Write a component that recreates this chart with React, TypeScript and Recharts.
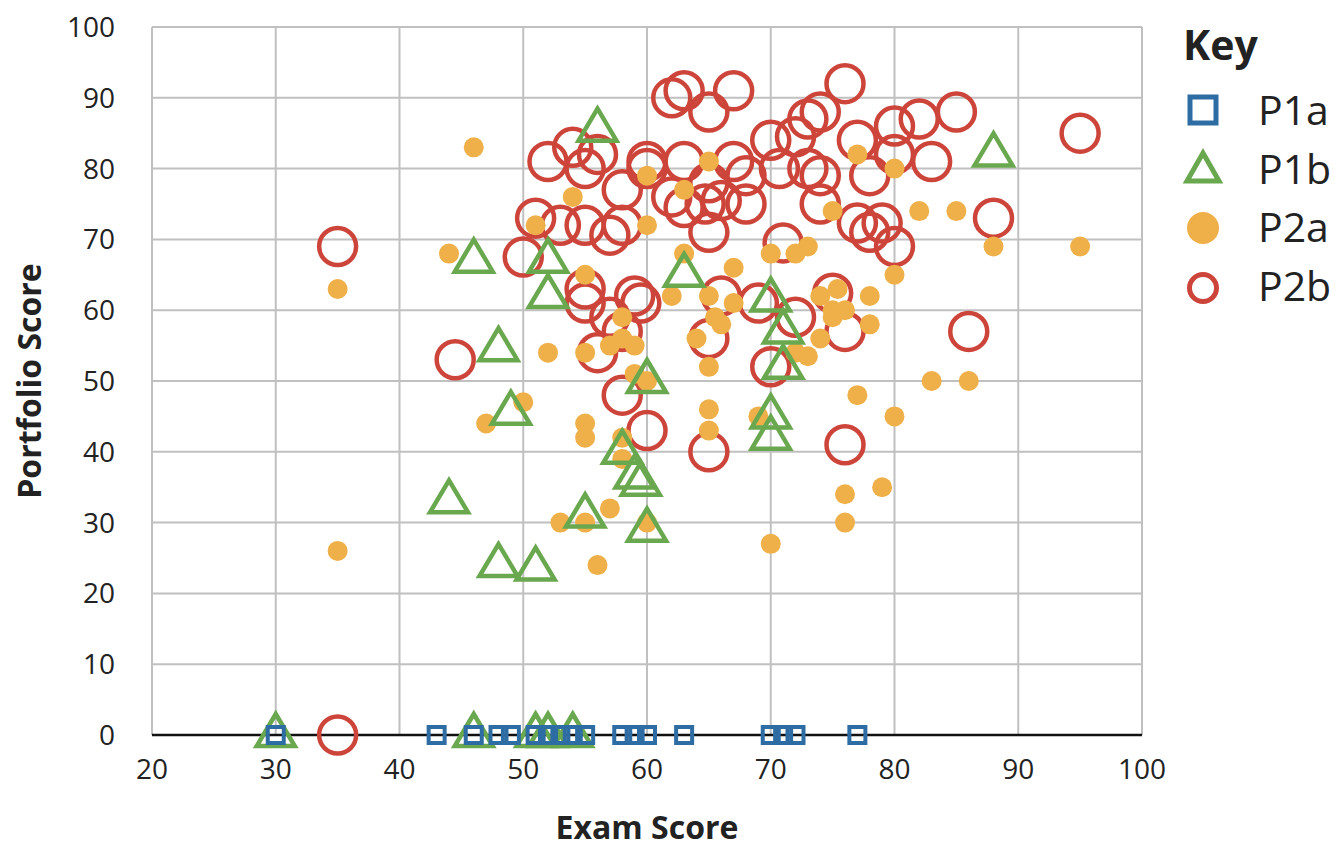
import React from 'react';
import { ScatterChart, Scatter, XAxis, YAxis, CartesianGrid } from 'recharts';

const xTicks = [20, 30, 40, 50, 60, 70, 80, 90, 100];
const yTicks = [0, 10, 20, 30, 40, 50, 60, 70, 80, 90, 100];

const seriesNames = ['P1a', 'P1b', 'P2a', 'P2b'];

const p1aPoints: [number, number][] = [
  [30, 0], [43, 0], [46, 0], [48, 0], [49, 0], [51, 0], [52, 0], [53, 0], [54, 0], [55, 0],
  [58, 0], [59, 0], [60, 0], [63, 0], [70, 0], [71, 0], [72, 0], [77, 0],
];

const p1bPoints: [number, number][] = [
  [30, 0], [46, 0], [51, 0], [52, 0], [54, 0],
  [56, 85.5], [88, 82], [46, 67], [52, 67], [52, 62], [63, 65], [48, 54.5], [60, 50],
  [70, 61.5], [71, 57], [71, 52], [70, 45], [70, 42], [49, 45.5], [58, 40], [59, 36.5],
  [59.5, 35.5], [44, 33], [55, 31], [60, 29], [48, 24], [51, 23.5],
];

const p2aPoints: [number, number][] = [
  [46, 83], [35, 63], [35, 26], [44, 68], [47, 44], [50, 47], [51, 72], [54, 76], [52, 54],
  [55, 65], [55, 54], [55, 44], [55, 42], [53, 30], [55, 30], [56, 24], [57, 32], [58, 59],
  [58, 56], [57, 55], [59, 55], [59, 51], [58, 42], [58, 39], [60, 79], [60, 72], [60, 50],
  [60, 30], [65, 81], [63, 77], [77, 82], [80, 80], [75, 74], [82, 74], [85, 74], [88, 69],
  [95, 69], [63, 68], [67, 66], [70, 68], [72, 68], [73, 69], [62, 62], [65, 62], [67, 61],
  [80, 65], [74, 62], [75.4, 63], [78, 62], [75, 60], [76, 60], [65.5, 59], [66, 58], [64, 56],
  [65, 52], [74, 56], [75, 59], [78, 58], [73, 53.5], [72, 54], [65, 46], [65, 43], [69, 45],
  [77, 48], [80, 45], [83, 50], [86, 50], [76, 34], [79, 35], [76, 30], [70, 27],
];

const p2bPoints: [number, number][] = [
  [35, 0], [35, 69], [44.5, 53],
  [62, 90], [63, 91], [67, 91], [65, 88], [76, 92], [74, 88], [73, 87], [80, 86], [82, 87], [85, 88],
  [52, 81], [54, 83], [56, 82], [55, 80], [60, 81], [60, 80], [63, 81], [67, 81], [70, 84],
  [72, 84.5], [77, 84], [80, 82], [83, 81], [95, 85],
  [70.7, 80], [73, 80], [74, 79], [78, 79], [65, 78], [68, 79], [58, 77], [62, 76], [63, 74.5],
  [64.7, 75], [66, 75.5], [68, 75], [74, 75],
  [51, 73], [53, 72], [55, 72], [57, 70.6], [58, 72], [65, 71], [77, 72.3], [79, 72.3], [78, 71],
  [80, 69], [71, 69.5], [88, 73], [50, 67.5],
  [55, 63], [55, 61], [59, 62], [59.5, 61], [57, 59], [58, 57], [56, 54], [58, 48], [60, 43],
  [65, 56], [66, 62], [69, 61], [75, 62.4], [72, 59], [76, 57], [70, 52], [76, 41], [65, 40], [86, 57],
];

const toPts = (a: [number, number][]) => a.map(([x, y]) => ({ x, y }));

const BLUE = '#2e6ca4';
const GREEN = '#6aa84f';
const ORANGE = '#efb04a';
const RED = '#cd453a';
const FONT = "'Open Sans', 'Noto Sans', sans-serif";

const SquareShape = (props: any) => {
  const { cx, cy } = props;
  return <rect x={cx - 8} y={cy - 8} width={16} height={16} fill="none" stroke={BLUE} strokeWidth={4} />;
};
const TriangleShape = (props: any) => {
  const { cx, cy } = props;
  const pts = `${cx},${cy - 21} ${cx + 19},${cy + 11} ${cx - 19},${cy + 11}`;
  return <polygon points={pts} fill="none" stroke={GREEN} strokeWidth={4.5} />;
};
const DotShape = (props: any) => {
  const { cx, cy } = props;
  return <circle cx={cx} cy={cy} r={10} fill={ORANGE} />;
};
const RingShape = (props: any) => {
  const { cx, cy } = props;
  return <circle cx={cx} cy={cy} r={18.5} fill="none" stroke={RED} strokeWidth={4.5} />;
};

const XTitle = (props: any) => {
  const vb = props.viewBox || { x: 144, y: 727, width: 990, height: 107 };
  return (
    <text x={vb.x + vb.width / 2} y={831} textAnchor="middle" fontFamily={FONT} fontWeight={700} fontSize={32} fill="#222">
      Exam Score
    </text>
  );
};
const YTitle = (props: any) => {
  const vb = props.viewBox || { x: 0, y: 19, width: 144, height: 708 };
  const x = 33;
  const y = vb.y + vb.height / 2;
  return (
    <text x={x} y={y} transform={`rotate(-90 ${x} ${y})`} textAnchor="middle" fontFamily={FONT} fontWeight={700} fontSize={32} fill="#222">
      Portfolio Score
    </text>
  );
};

const Legend = () => (
  <svg width={180} height={330} style={{ position: 'absolute', left: 1150, top: 0 }}>
    <text x={25} y={52} fontFamily={FONT} fontWeight={700} fontSize={41} fill="#222">Key</text>
    <rect x={32} y={89} width={26} height={26} fill="none" stroke={BLUE} strokeWidth={5} />
    <polygon points="45,145 61,173 29,173" fill="none" stroke={GREEN} strokeWidth={5} />
    <circle cx={45} cy={220} r={16} fill={ORANGE} />
    <circle cx={45} cy={280} r={13.5} fill="none" stroke={RED} strokeWidth={5} />
    {seriesNames.map((n, i) => (
      <text key={n} x={100} y={117 + i * 58.5} fontFamily={FONT} fontSize={41} fill="#222">{n}</text>
    ))}
  </svg>
);

export default function App() {
  return (
    <div style={{ position: 'relative', width: 1322, height: 834 }}>
      <ScatterChart width={1322} height={834} margin={{ top: 19, right: 188, bottom: 0, left: 0 }}>
        <CartesianGrid stroke="#c0c0c0" strokeWidth={2} />
        <XAxis
          type="number"
          dataKey="x"
          domain={[20, 100]}
          ticks={xTicks}
          interval={0}
          height={107}
          tickSize={0}
          tickMargin={24}
          tickLine={false}
          axisLine={{ stroke: '#111', strokeWidth: 2.5 }}
          tick={{ fill: '#222', fontSize: 28, fontFamily: FONT }}
          label={<XTitle />}
        />
        <YAxis
          type="number"
          dataKey="y"
          domain={[0, 100]}
          ticks={yTicks}
          interval={0}
          width={144}
          tickSize={0}
          tickMargin={37}
          tickLine={false}
          axisLine={false}
          tick={{ fill: '#222', fontSize: 28, fontFamily: FONT }}
          label={<YTitle />}
        />
        <Scatter name="P2b" data={toPts(p2bPoints)} shape={RingShape} isAnimationActive={false} />
        <Scatter name="P2a" data={toPts(p2aPoints)} shape={DotShape} isAnimationActive={false} />
        <Scatter name="P1b" data={toPts(p1bPoints)} shape={TriangleShape} isAnimationActive={false} />
        <Scatter name="P1a" data={toPts(p1aPoints)} shape={SquareShape} isAnimationActive={false} />
      </ScatterChart>
      <Legend />
    </div>
  );
}
